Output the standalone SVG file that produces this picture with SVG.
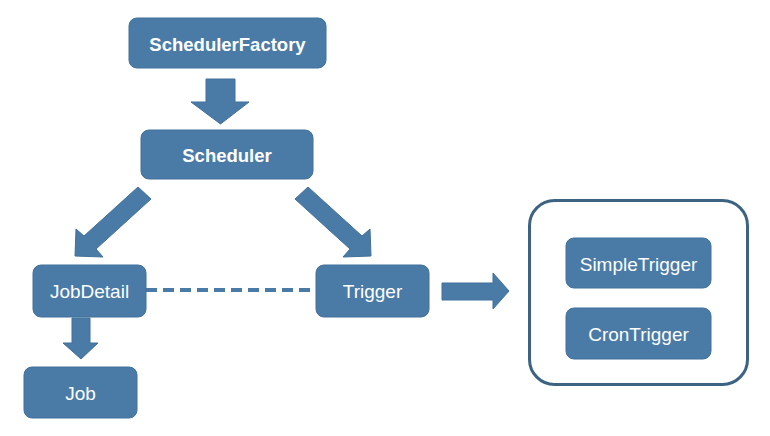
<svg xmlns="http://www.w3.org/2000/svg" width="770" height="436" viewBox="0 0 770 436">
<style>
.box{fill:#4a7ba7;stroke:#41709a;stroke-width:1}
.arr{fill:#4a7ba7;stroke:#41709a;stroke-width:1}
.tb{font-family:"Liberation Sans",Arial,sans-serif;font-size:18.5px;font-weight:bold;fill:#ffffff;text-anchor:middle}
.tr{font-family:"Liberation Sans",Arial,sans-serif;font-size:19px;fill:#ffffff;text-anchor:middle}
</style>
<rect width="770" height="436" fill="#ffffff"/>
<g id="connectors">
<polygon class="arr" points="206,79 235,79 235,102 249,102 220.5,124 191,102 206,102"/>
<polygon class="arr" points="138,187 151,199 96,249 103,257 75,256 76,229 84,236"/>
<polygon class="arr" points="308,187 295,199 350,249 343,257 371,256 370,229 362,236"/>
<line x1="146" y1="290" x2="316" y2="290" stroke="#4a7ba7" stroke-width="4" stroke-dasharray="11,6"/>
<polygon class="arr" points="72,318 90,318 90,343 98,343 81,359 63,343 72,343"/>
<polygon class="arr" points="442,283 493,283 493,273 509,291 493,309 493,300 442,300"/>
</g>
<g id="SchedulerFactory">
<rect class="box" x="129" y="18" width="197" height="50" rx="8"/>
<text class="tb" x="227.5" y="50.5">SchedulerFactory</text>
</g>
<g id="Scheduler">
<rect class="box" x="141" y="130" width="172" height="49" rx="8"/>
<text class="tb" x="227" y="161.5">Scheduler</text>
</g>
<g id="JobDetail">
<rect class="box" x="33" y="265" width="113" height="52" rx="8"/>
<text class="tr" x="89.5" y="298">JobDetail</text>
</g>
<g id="Trigger">
<rect class="box" x="316" y="265" width="113" height="52" rx="8"/>
<text class="tr" x="372.5" y="298">Trigger</text>
</g>
<g id="Job">
<rect class="box" x="24" y="367" width="113" height="51" rx="8"/>
<text class="tr" x="80.5" y="400">Job</text>
</g>
<g id="TriggerTypes">
<rect x="529.5" y="200.5" width="218" height="184" rx="25" fill="#ffffff" stroke="#3d6383" stroke-width="3"/>
</g>
<g id="SimpleTrigger">
<rect class="box" x="566" y="238" width="145" height="50" rx="8"/>
<text class="tr" x="638.5" y="270.5">SimpleTrigger</text>
</g>
<g id="CronTrigger">
<rect class="box" x="566" y="308" width="145" height="51" rx="8"/>
<text class="tr" x="638.5" y="340.5">CronTrigger</text>
</g>
</svg>
